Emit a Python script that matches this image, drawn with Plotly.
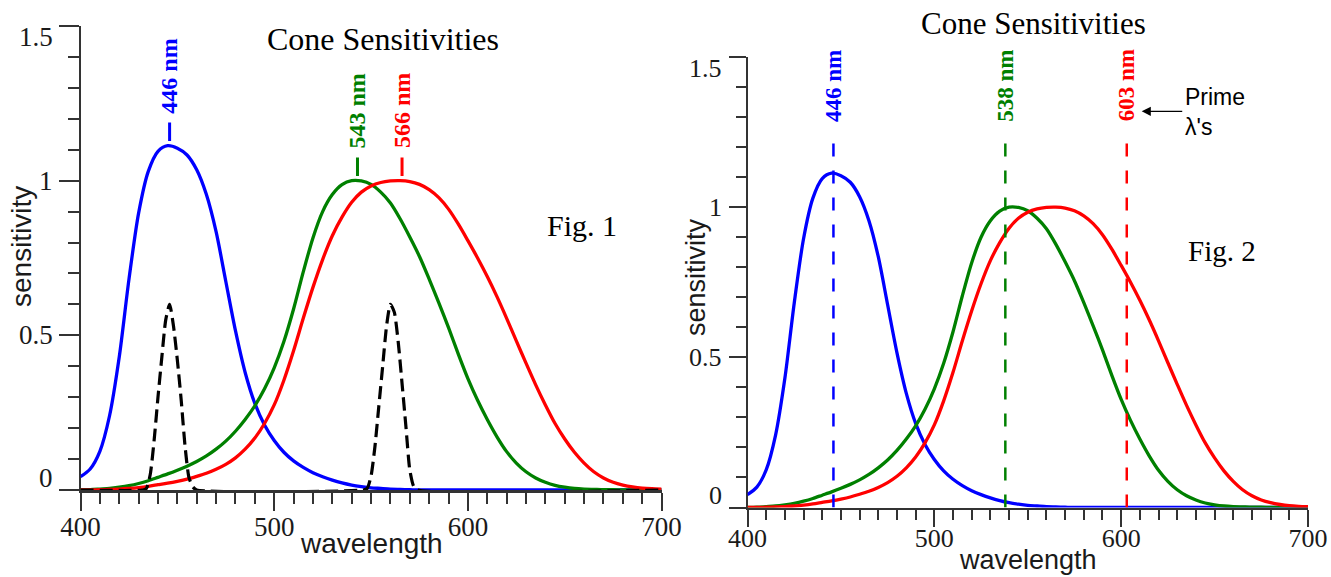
import plotly.graph_objects as go

# ---------------------------------------------------------------------------
# Cone fundamentals (relative sensitivity) sampled every 5 nm, 400-700 nm
# ---------------------------------------------------------------------------
wavelength = list(range(400, 705, 5))

s_cone = [0.043, 0.068, 0.125, 0.24, 0.43, 0.68, 0.895, 1.03, 1.095, 1.113,
          1.105, 1.083, 1.035, 0.955, 0.835, 0.675, 0.515, 0.38, 0.28, 0.21,
          0.16, 0.122, 0.094, 0.073, 0.056, 0.043, 0.032, 0.023, 0.016, 0.011,
          0.007, 0.005, 0.003, 0.002, 0.001, 0.0, 0.0, 0.0, 0.0, 0.0,
          0.0, 0.0, 0.0, 0.0, 0.0, 0.0, 0.0, 0.0, 0.0, 0.0,
          0.0, 0.0, 0.0, 0.0, 0.0, 0.0, 0.0, 0.0, 0.0, 0.0, 0.0]

m_cone = [0.0, 0.001, 0.003, 0.005, 0.009, 0.014, 0.021, 0.03, 0.041, 0.052,
          0.064, 0.077, 0.092, 0.11, 0.132, 0.158, 0.19, 0.228, 0.272, 0.327,
          0.395, 0.48, 0.585, 0.705, 0.815, 0.9, 0.955, 0.987, 1.0, 0.999,
          0.988, 0.963, 0.928, 0.877, 0.818, 0.755, 0.682, 0.605, 0.525, 0.44,
          0.36, 0.29, 0.228, 0.172, 0.124, 0.087, 0.059, 0.039, 0.025, 0.015,
          0.009, 0.005, 0.003, 0.002, 0.001, 0.001, 0.0, 0.0, 0.0, 0.0, 0.0]

l_cone = [0.0, 0.0, 0.001, 0.002, 0.003, 0.005, 0.008, 0.012, 0.017, 0.022,
          0.028, 0.035, 0.044, 0.054, 0.067, 0.083, 0.104, 0.132, 0.168, 0.215,
          0.275, 0.355, 0.45, 0.555, 0.655, 0.745, 0.822, 0.882, 0.93, 0.963,
          0.983, 0.994, 0.999, 1.0, 0.997, 0.988, 0.971, 0.945, 0.908, 0.86,
          0.806, 0.75, 0.69, 0.625, 0.555, 0.482, 0.41, 0.34, 0.275, 0.215,
          0.165, 0.122, 0.087, 0.059, 0.039, 0.025, 0.016, 0.01, 0.006, 0.004,
          0.003]

# Narrow-band test lights drawn dashed in Fig. 1
light_wl = [400, 432, 434, 436, 438, 440, 442, 444, 446, 448, 450, 452, 454,
            456, 458, 460, 546, 548, 550, 552, 554, 556, 558, 560, 562, 564,
            566, 568, 570, 572, 574, 700]
light_val = [0, 0, 0.005, 0.05, 0.16, 0.30, 0.43, 0.55, 0.60, 0.53, 0.42,
             0.29, 0.14, 0.04, 0.01, 0, 0, 0.005, 0.045, 0.14, 0.27, 0.40,
             0.53, 0.60, 0.575, 0.48, 0.345, 0.205, 0.065, 0.012, 0, 0]

# Peak wavelengths (Fig. 1) and prime wavelengths (Fig. 2), order S, M, L
peak_wl = [446, 543, 566]
prime_wl = [446, 538, 603]

x_ticks = [400, 500, 600, 700]
y_ticks = [0, 0.5, 1, 1.5]
y_tick_text = ["0", "0.5", "1", "1.5"]

# ---------------------------------------------------------------------------
# Styling
# ---------------------------------------------------------------------------
W, H = 1331, 577
SERIF = "Liberation Serif, Times New Roman, serif"
SANS = "Liberation Sans, Arial, Helvetica, sans-serif"
cone_colors = ["#0000ff", "#008000", "#ff0000"]
cones = [s_cone, m_cone, l_cone]
AXIS_COLOR = "#333333"
TEXT_COLOR = "#1a1a1a"
CURVE_W = 3.3


def px(xp):
    return xp / W


def py(yp):
    return 1 - yp / H


fig = go.Figure()

# ----- Fig. 1 (left panel) -----
for vals, col in zip(cones, cone_colors):
    fig.add_trace(go.Scatter(
        x=wavelength, y=vals, mode="lines", xaxis="x", yaxis="y",
        line=dict(color=col, width=CURVE_W, shape="spline", smoothing=0.8),
        hoverinfo="skip", showlegend=False))

fig.add_trace(go.Scatter(
    x=light_wl, y=light_val, mode="lines", xaxis="x", yaxis="y",
    line=dict(color="black", width=3.2, dash="13px,6px", shape="spline",
              smoothing=0.6),
    hoverinfo="skip", showlegend=False))

# short marker strokes above each peak
for w, vals, col in zip(peak_wl, cones, cone_colors):
    top = max(vals)
    fig.add_trace(go.Scatter(
        x=[w, w], y=[top + 0.015, top + 0.075], mode="lines",
        xaxis="x", yaxis="y", line=dict(color=col, width=3),
        hoverinfo="skip", showlegend=False))

# ----- Fig. 2 (right panel) -----
for vals, col in zip(cones, cone_colors):
    fig.add_trace(go.Scatter(
        x=wavelength, y=vals, mode="lines", xaxis="x2", yaxis="y2",
        line=dict(color=col, width=CURVE_W, shape="spline", smoothing=0.8),
        hoverinfo="skip", showlegend=False))

for w, col in zip(prime_wl, cone_colors):
    fig.add_trace(go.Scatter(
        x=[w, w], y=[0, 1.25], mode="lines", xaxis="x2", yaxis="y2",
        line=dict(color=col, width=2.5, dash="13px,14px"),
        hoverinfo="skip", showlegend=False))

# ---------------------------------------------------------------------------
# Axes
# ---------------------------------------------------------------------------
def x_axis(domain, anchor, major_len, minor_len, size, standoff, lw):
    return dict(
        domain=domain, anchor=anchor, range=[400, 700], tickvals=x_ticks,
        ticktext=[str(t) for t in x_ticks], automargin=False,
        showline=True, linecolor=AXIS_COLOR, linewidth=lw,
        layer="below traces",
        ticks="outside", ticklen=major_len, tickwidth=2, tickcolor=AXIS_COLOR,
        minor=dict(dtick=10, tick0=400, ticks="outside", ticklen=minor_len,
                   tickwidth=2, tickcolor=AXIS_COLOR, showgrid=False),
        tickfont=dict(family=SERIF, size=size, color=TEXT_COLOR),
        ticklabelstandoff=standoff,
        showgrid=False, zeroline=False, fixedrange=True)


def y_axis(domain, anchor, major_len, minor_len):
    return dict(
        domain=domain, anchor=anchor, range=[0, 1.5], tickvals=y_ticks,
        showticklabels=False, automargin=False,
        showline=True, linecolor=AXIS_COLOR, linewidth=2,
        layer="below traces",
        ticks="outside", ticklen=major_len, tickwidth=2, tickcolor=AXIS_COLOR,
        minor=dict(dtick=0.1, tick0=0, ticks="outside", ticklen=minor_len,
                   tickwidth=2, tickcolor=AXIS_COLOR, showgrid=False),
        showgrid=False, zeroline=False, fixedrange=True)


L_X = [px(80.5), px(661.6)]
L_Y = [py(490), py(26)]
R_X = [px(747.5), px(1308)]
R_Y = [py(507.5), py(57)]

annotations = []

# y tick labels; the end labels are nudged inside the axis span
for xa, ya, size, gap in [("x", "y", 27, 25.5), ("x2", "y2", 26, 24)]:
    for v, t in zip(y_ticks, y_tick_text):
        nudge = -11 if v == y_ticks[-1] else (12 if v == y_ticks[0] else 0)
        annotations.append(dict(
            x=0, y=v, xref=f"{xa} domain", yref=ya, text=t,
            xanchor="right", yanchor="middle", xshift=-gap, yshift=nudge,
            showarrow=False, font=dict(family=SERIF, size=size,
                                       color=TEXT_COLOR)))

# peak labels, Fig. 1
for w, vals, col in zip(peak_wl, cones, cone_colors):
    annotations.append(dict(
        x=w, y=max(vals) + 0.225, xref="x", yref="y", text=f"<b>{w} nm</b>",
        textangle=-90, showarrow=False, xanchor="center", yanchor="middle",
        font=dict(family=SERIF, size=24, color=col)))

# prime wavelength labels, Fig. 2
for w, col in zip(prime_wl, cone_colors):
    annotations.append(dict(
        x=w, y=1.405, xref="x2", yref="y2", text=f"<b>{w} nm</b>",
        textangle=-90, showarrow=False, xanchor="center", yanchor="middle",
        font=dict(family=SERIF, size=23, color=col)))


def paper_text(x, y, text, family, size, angle=0, color="black"):
    return dict(x=px(x), y=py(y), xref="paper", yref="paper", text=text,
                textangle=angle, showarrow=False, xanchor="center",
                yanchor="middle", font=dict(family=family, size=size,
                                            color=color))


# titles, figure tags and axis titles
annotations += [
    paper_text(382.5, 39, "Cone Sensitivities", SERIF, 32),
    paper_text(1033, 24, "Cone Sensitivities", SERIF, 31),
    paper_text(581.5, 225, "Fig. 1", SERIF, 30),
    paper_text(1221.5, 251, "Fig. 2", SERIF, 29),
    paper_text(22, 247, "sensitivity", SANS, 28, -90, TEXT_COLOR),
    paper_text(695.5, 277.6, "sensitivity", SANS, 27, -90, TEXT_COLOR),
    paper_text(371.7, 543, "wavelength", SANS, 28, 0, TEXT_COLOR),
    paper_text(1028, 560, "wavelength", SANS, 27, 0, TEXT_COLOR),
    # prime wavelength callout
    dict(x=px(1183), y=py(111.5), xref="paper", yref="paper",
         text="Prime<br>λ's", showarrow=False, align="left",
         xanchor="left", yanchor="middle",
         font=dict(family=SANS, size=23, color="black")),
    dict(x=611, y=1.319, xref="x2", yref="y2", text="", showarrow=True,
         ax=42, ay=0, arrowhead=2, arrowsize=1.3, arrowwidth=1.4,
         arrowcolor="black"),
]

fig.update_layout(
    width=W, height=H,
    margin=dict(l=0, r=0, t=0, b=0, autoexpand=False),
    paper_bgcolor="white", plot_bgcolor="white",
    showlegend=False,
    xaxis=x_axis(L_X, "y", 18, 11, 27, -7, 3),
    yaxis=y_axis(L_Y, "x", 20, 11),
    xaxis2=x_axis(R_X, "y2", 17, 10, 26, -11, 2),
    yaxis2=y_axis(R_Y, "x2", 17, 10),
    annotations=annotations,
)

fig.write_html("out.html", include_plotlyjs=True, full_html=True,
               config=dict(displayModeBar=False, staticPlot=True))
